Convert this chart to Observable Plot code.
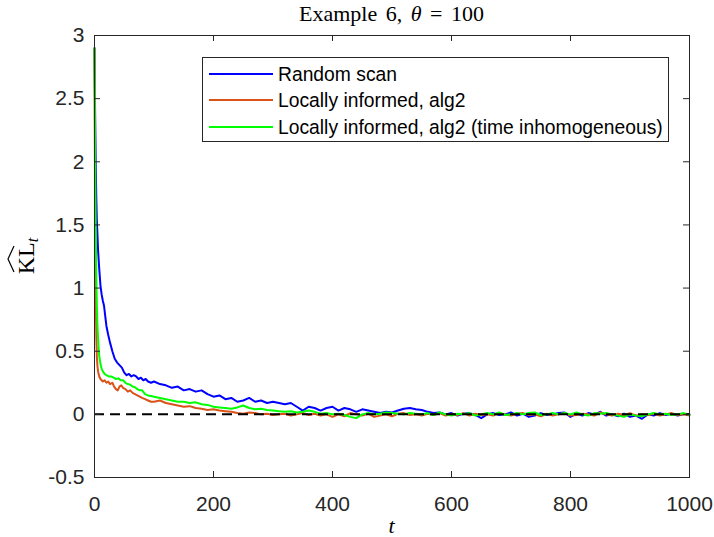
<!DOCTYPE html>
<html><head><meta charset="utf-8">
<script src="https://cdn.jsdelivr.net/npm/d3@7"></script>
<script src="https://cdn.jsdelivr.net/npm/@observablehq/plot@0.6"></script>
<style>body{margin:0;background:#fff} #wrap{position:relative;width:714px;height:537px}</style>
</head><body><div id="wrap"></div>
<script>
// ---- data ----
const seriesNames = ["Random scan", "Locally informed, alg2", "Locally informed, alg2 (time inhomogeneous)"];
const xTicks = [0, 200, 400, 600, 800, 1000];
const yTicks = [-0.5, 0, 0.5, 1, 1.5, 2, 2.5, 3];
const refLine = [0];

const tLate = [100,110,120,130,140,150,160,170,180,190,200,210,220,230,240,250,260,270,280,290,300,310,320,330,340,350,360,370,380,390,400,410,420,430,440,450,460,470,480,490,500,510,520,530,540,550,560,570,580,590,600,610,620,630,640,650,660,670,680,690,700,710,720,730,740,750,760,770,780,790,800,810,820,830,840,850,860,870,880,890,900,910,920,930,940,950,960,970,980,990,1000];

// Random scan
const tBlueEarly = [0,1,2,3,4,5,6,8,10,12,14,16,18,20,23,26,30,34,38,42,46,50,54,58,62,66,70,74,78,82,86,90,95];
const kBlueEarly = [2.9,2.4,2.0,1.72,1.52,1.42,1.3,1.15,1.02,0.95,0.9,0.86,0.78,0.7,0.63,0.57,0.5,0.44,0.41,0.39,0.37,0.33,0.31,0.32,0.3,0.31,0.3,0.28,0.29,0.27,0.28,0.26,0.25];
const kBlueLate = [0.26,0.24,0.23,0.21,0.22,0.19,0.2,0.18,0.19,0.16,0.14,0.15,0.12,0.13,0.1,0.11,0.13,0.1,0.11,0.09,0.1,0.09,0.08,0.09,0.06,0.03,0.06,0.05,0.03,0.05,0.06,0.03,0.05,0.04,0.02,0.04,0.03,0.02,0.01,0.02,0.015,0.03,0.045,0.05,0.04,0.035,0.02,0.01,0.015,0.0,0.01,-0.01,0.005,0.01,-0.005,-0.03,0.0,0.01,-0.005,0.0,0.015,-0.01,0.005,-0.02,-0.01,0.01,-0.005,0.0,0.01,0.015,-0.02,0.005,-0.01,0.01,0.0,0.02,-0.01,0.0,-0.015,0.005,-0.02,-0.01,-0.035,0.0,-0.01,0.01,-0.005,0.005,-0.01,0.0,0.0];

// Locally informed, alg2
const tOrangeEarly = [0,1,2,3,4,5,6,8,10,12,14,17,20,23,26,30,33,36,39,42,45,48,52,56,60,64,68,72,76,80,85,90,95];
const kOrangeEarly = [2.9,1.6,0.95,0.62,0.45,0.38,0.34,0.3,0.28,0.27,0.26,0.27,0.25,0.26,0.24,0.25,0.22,0.2,0.19,0.22,0.23,0.21,0.2,0.18,0.19,0.17,0.16,0.15,0.14,0.13,0.12,0.11,0.1];
const kOrangeLate = [0.1,0.11,0.09,0.08,0.07,0.06,0.065,0.05,0.045,0.035,0.04,0.03,0.025,0.02,0.01,0.005,0.015,0.01,0.0,0.005,-0.005,0.0,0.005,-0.01,0.0,0.01,-0.005,0.005,-0.01,0.0,-0.02,0.0,-0.015,0.01,0.0,-0.01,0.005,-0.02,-0.01,0.0,-0.015,0.005,0.01,-0.005,0.0,-0.01,0.005,-0.005,0.01,-0.01,0.0,-0.005,0.01,-0.01,0.005,-0.005,0.0,-0.01,0.01,0.0,-0.01,0.005,0.01,-0.005,0.0,-0.015,0.005,-0.01,0.0,0.01,-0.01,-0.005,0.005,0.0,-0.01,0.015,0.0,-0.01,0.005,-0.005,0.01,-0.01,0.0,-0.005,0.005,-0.01,0.0,0.01,-0.005,0.0,-0.01];

// Locally informed, alg2 (time inhomogeneous)
const tGreenEarly = [0,1,2,3,4,5,6,7,8,10,12,14,17,20,24,28,32,36,40,44,48,52,56,60,64,68,72,76,80,85,90,95];
const kGreenEarly = [2.9,2.1,1.5,1.1,0.85,0.7,0.6,0.52,0.46,0.4,0.36,0.34,0.32,0.31,0.3,0.3,0.29,0.28,0.285,0.27,0.27,0.25,0.24,0.235,0.22,0.215,0.2,0.19,0.19,0.16,0.15,0.145];
const kGreenLate = [0.14,0.13,0.12,0.11,0.1,0.1,0.09,0.095,0.08,0.075,0.06,0.055,0.05,0.045,0.055,0.07,0.05,0.04,0.045,0.035,0.03,0.025,0.02,0.025,0.015,0.02,0.03,0.02,0.005,0.01,0.0,0.005,-0.005,-0.02,-0.03,0.0,0.01,0.0,0.005,0.015,0.01,0.005,0.0,0.01,0.005,0.0,0.01,-0.005,0.015,0.0,-0.01,0.005,0.0,0.01,-0.01,0.0,0.01,0.0,0.015,-0.005,0.0,0.01,0.0,0.01,0.015,-0.005,0.0,0.01,0.0,0.01,0.0,0.015,0.0,-0.01,0.01,0.005,0.01,0.0,-0.01,-0.02,0.0,-0.01,-0.015,0.0,0.01,0.0,0.005,-0.005,0.0,0.01,-0.005];

// ---- build tables ----
const rows = (tE, kE, kL) => tE.map((t,i)=>({t, v:kE[i]})).concat(tLate.map((t,i)=>({t, v:kL[i]})));
const blue = rows(tBlueEarly, kBlueEarly, kBlueLate);
const orange = rows(tOrangeEarly, kOrangeEarly, kOrangeLate);
const green = rows(tGreenEarly, kGreenEarly, kGreenLate);
const colors = ["#0000ff", "#d95319", "#00ff00"];

const W = 714, H = 537, mL = 94, mR = 25, mT = 35, mB = 60;
const fw = W - mL - mR, fh = H - mT - mB;
const axisCol = "#262626";

const chart = Plot.plot({
  width: W, height: H,
  marginLeft: mL, marginRight: mR, marginTop: mT, marginBottom: mB,
  style: {fontFamily: "'Liberation Sans', Arial, sans-serif", fontSize: "21px", color: axisCol, background: "#fff", overflow: "visible"},
  x: {domain: [0, 1000]},
  y: {domain: [-0.5, 3]},
  marks: [
    Plot.line(blue, {x: "t", y: "v", stroke: colors[0], strokeWidth: 2}),
    Plot.line(orange, {x: "t", y: "v", stroke: colors[1], strokeWidth: 2}),
    Plot.line(green, {x: "t", y: "v", stroke: colors[2], strokeWidth: 2}),
    Plot.ruleY(refLine, {y: d => d, stroke: "#000", strokeWidth: 2, strokeDasharray: "10,6"}),
    Plot.frame({stroke: axisCol, strokeWidth: 1}),
    Plot.tickX(xTicks, {x: d => d, insetTop: fh - 6, stroke: axisCol}),
    Plot.tickX(xTicks, {x: d => d, insetBottom: fh - 6, stroke: axisCol}),
    Plot.tickY(yTicks, {y: d => d, insetRight: fw - 6, stroke: axisCol}),
    Plot.tickY(yTicks, {y: d => d, insetLeft: fw - 6, stroke: axisCol}),
    Plot.axisX(xTicks, {tickSize: 0, tickPadding: 19, fontSize: 21, tickFormat: d => String(d), label: null}),
    Plot.axisY(yTicks, {tickSize: 0, tickPadding: 10, fontSize: 21, tickFormat: d => String(d), label: null})
  ]
});
document.getElementById("wrap").appendChild(chart);

const svg = d3.select(chart);
const serif = "'Liberation Serif', 'DejaVu Serif', serif";

// title
const title = svg.append("text").attr("x", mL + fw / 2).attr("y", 21).attr("text-anchor", "middle")
  .attr("font-family", serif).attr("font-size", 22).attr("word-spacing", 3).attr("fill", "#000");
title.append("tspan").text("Example 6, ");
title.append("tspan").attr("font-style", "italic").text("θ");
title.append("tspan").text(" = 100");

// x label
svg.append("text").attr("x", mL + fw / 2).attr("y", 533).attr("text-anchor", "middle")
  .attr("font-family", serif).attr("font-size", 22).attr("font-style", "italic").attr("fill", "#000").text("t");

// y label (rotated)
const yl = svg.append("g").attr("transform", `translate(34,${mT + fh / 2}) rotate(-90)`);
const ytext = yl.append("text").attr("text-anchor", "middle").attr("font-family", serif).attr("font-size", 24).attr("fill", "#000");
ytext.append("tspan").text("KL");
ytext.append("tspan").attr("font-size", 16).attr("font-style", "italic").attr("dy", 4).text("t");
yl.append("path").attr("d", "M-16,-20 L-3,-26 L10,-20").attr("fill", "none").attr("stroke", "#000").attr("stroke-width", 1.2);

// legend
const lg = svg.append("g");
lg.append("rect").attr("x", 202.5).attr("y", 57.5).attr("width", 466).attr("height", 84)
  .attr("fill", "#fff").attr("stroke", axisCol).attr("stroke-width", 1);
const rowY = [74, 100, 127];
seriesNames.forEach((name, i) => {
  lg.append("line").attr("x1", 209).attr("x2", 273).attr("y1", rowY[i]).attr("y2", rowY[i])
    .attr("stroke", colors[i]).attr("stroke-width", 2);
  lg.append("text").attr("x", 278).attr("y", rowY[i]).attr("dy", "0.35em").attr("text-anchor", "start")
    .attr("font-family", "'Liberation Sans', Arial, sans-serif").attr("font-size", 19.3).attr("fill", "#000").text(name);
});
</script></body></html>
